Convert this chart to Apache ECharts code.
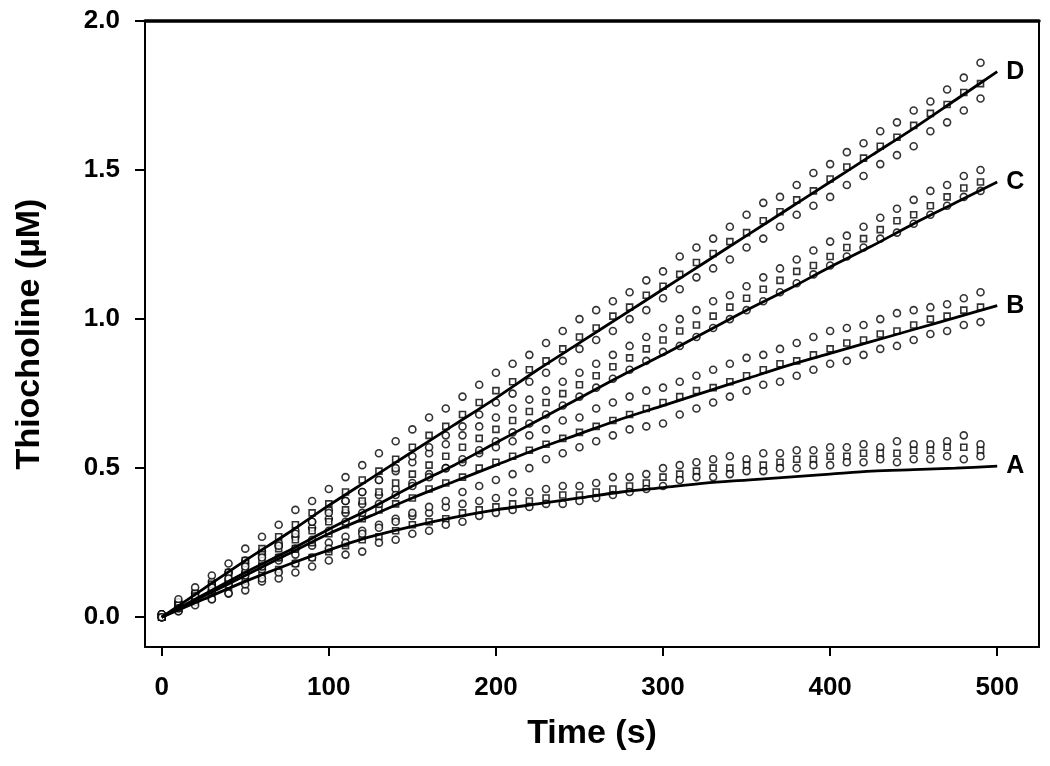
<!DOCTYPE html>
<html>
<head>
<meta charset="utf-8">
<script src="https://cdn.jsdelivr.net/npm/echarts@6/dist/echarts.min.js"></script>
<style>html,body{margin:0;padding:0;background:#fff;}#c{width:1050px;height:766px;}</style>
</head>
<body>
<div id="c"></div>
<script>
// ---- data ----
const xTicks = [0, 100, 200, 300, 400, 500];
const yTicks = [0, 0.5, 1.0, 1.5, 2.0];
const curveNames = ['A', 'B', 'C', 'D'];

// fitted curves, time points
const tFit = [0, 25, 50, 75, 100, 125, 150, 175, 200, 225, 250, 275, 300, 325, 350, 375, 400, 425, 450, 475, 500];
const fitA = [0, 0.06, 0.12, 0.175, 0.225, 0.27, 0.305, 0.335, 0.36, 0.38, 0.40, 0.42, 0.435, 0.45, 0.46, 0.47, 0.48, 0.49, 0.495, 0.50, 0.507];
const fitB = [0, 0.07, 0.14, 0.21, 0.28, 0.34, 0.40, 0.455, 0.51, 0.565, 0.615, 0.665, 0.71, 0.755, 0.80, 0.845, 0.885, 0.925, 0.965, 1.005, 1.045];
const fitC = [0, 0.075, 0.15, 0.22, 0.295, 0.365, 0.44, 0.51, 0.585, 0.66, 0.735, 0.81, 0.88, 0.955, 1.03, 1.10, 1.175, 1.245, 1.32, 1.39, 1.46];
const fitD = [0, 0.095, 0.19, 0.28, 0.375, 0.465, 0.555, 0.645, 0.735, 0.83, 0.92, 1.01, 1.10, 1.19, 1.28, 1.37, 1.46, 1.55, 1.64, 1.735, 1.83];

// observed replicates, time points
const tObs = [0,10,20,30,40,50,60,70,80,90,100,110,120,130,140,150,160,170,180,190,200,210,220,230,240,250,260,270,280,290,300,310,320,330,340,350,360,370,380,390,400,410,420,430,440,450,460,470,480,490];

const obsA1 = [0.01,0.04,0.07,0.09,0.12,0.15,0.16,0.19,0.21,0.24,0.25,0.27,0.29,0.31,0.33,0.34,0.35,0.37,0.38,0.39,0.40,0.42,0.42,0.43,0.44,0.44,0.45,0.47,0.47,0.48,0.50,0.51,0.52,0.53,0.54,0.53,0.55,0.55,0.56,0.56,0.57,0.57,0.58,0.57,0.59,0.58,0.58,0.59,0.61,0.58];
const obsA2 = [0.00,0.03,0.06,0.08,0.10,0.12,0.14,0.16,0.18,0.20,0.22,0.24,0.26,0.27,0.29,0.31,0.32,0.33,0.35,0.36,0.37,0.38,0.39,0.40,0.41,0.41,0.42,0.43,0.44,0.45,0.47,0.48,0.49,0.50,0.50,0.51,0.51,0.52,0.53,0.53,0.54,0.54,0.55,0.55,0.55,0.56,0.56,0.57,0.57,0.56];
const obsA3 = [0.00,0.02,0.05,0.06,0.08,0.09,0.12,0.13,0.15,0.17,0.19,0.21,0.22,0.25,0.26,0.28,0.29,0.31,0.32,0.34,0.35,0.36,0.37,0.38,0.38,0.39,0.40,0.41,0.42,0.43,0.44,0.46,0.47,0.47,0.48,0.49,0.49,0.50,0.50,0.51,0.51,0.52,0.52,0.53,0.52,0.53,0.53,0.54,0.53,0.54];

const obsB1 = [0.01,0.05,0.08,0.11,0.15,0.18,0.21,0.24,0.27,0.30,0.33,0.35,0.38,0.41,0.43,0.45,0.48,0.50,0.52,0.55,0.57,0.59,0.61,0.63,0.66,0.67,0.70,0.72,0.74,0.76,0.77,0.79,0.81,0.83,0.85,0.87,0.88,0.90,0.92,0.94,0.96,0.97,0.98,1.00,1.02,1.03,1.04,1.05,1.07,1.09];
const obsB2 = [0.00,0.03,0.06,0.09,0.12,0.14,0.17,0.20,0.23,0.25,0.28,0.31,0.33,0.36,0.38,0.40,0.43,0.45,0.47,0.50,0.52,0.54,0.56,0.58,0.60,0.62,0.64,0.66,0.68,0.70,0.72,0.74,0.76,0.77,0.79,0.81,0.83,0.85,0.86,0.88,0.90,0.92,0.93,0.95,0.96,0.98,1.00,1.01,1.03,1.04];
const obsB3 = [0.00,0.02,0.04,0.06,0.08,0.11,0.13,0.15,0.18,0.20,0.23,0.25,0.28,0.30,0.32,0.35,0.37,0.39,0.42,0.44,0.46,0.48,0.50,0.53,0.55,0.57,0.59,0.61,0.63,0.64,0.65,0.68,0.70,0.72,0.74,0.76,0.78,0.79,0.81,0.83,0.85,0.86,0.88,0.90,0.91,0.93,0.95,0.96,0.98,0.99];

const obsC1 = [0.01,0.05,0.08,0.12,0.15,0.19,0.22,0.25,0.29,0.32,0.36,0.39,0.42,0.46,0.49,0.52,0.55,0.58,0.61,0.64,0.67,0.70,0.73,0.76,0.79,0.82,0.85,0.88,0.91,0.94,0.97,1.00,1.03,1.06,1.08,1.11,1.14,1.17,1.20,1.23,1.26,1.28,1.31,1.34,1.37,1.40,1.43,1.45,1.48,1.50];
const obsC2 = [0.00,0.04,0.07,0.10,0.13,0.16,0.19,0.23,0.26,0.29,0.32,0.36,0.39,0.42,0.45,0.48,0.51,0.54,0.57,0.60,0.63,0.66,0.69,0.72,0.75,0.78,0.81,0.84,0.87,0.90,0.93,0.96,0.98,1.01,1.04,1.07,1.10,1.13,1.16,1.18,1.21,1.24,1.27,1.30,1.33,1.35,1.38,1.41,1.44,1.46];
const obsC3 = [0.00,0.03,0.06,0.09,0.11,0.14,0.17,0.20,0.23,0.26,0.29,0.32,0.35,0.38,0.41,0.44,0.47,0.50,0.53,0.56,0.59,0.62,0.65,0.68,0.71,0.74,0.77,0.80,0.83,0.86,0.89,0.91,0.94,0.97,1.00,1.03,1.06,1.09,1.12,1.15,1.18,1.21,1.24,1.27,1.29,1.32,1.35,1.38,1.41,1.43];

const obsD1 = [0.01,0.06,0.10,0.14,0.18,0.23,0.27,0.31,0.36,0.39,0.43,0.47,0.51,0.55,0.59,0.63,0.67,0.70,0.74,0.78,0.82,0.85,0.88,0.92,0.96,1.00,1.03,1.06,1.09,1.13,1.16,1.21,1.24,1.27,1.31,1.35,1.39,1.41,1.45,1.49,1.52,1.56,1.59,1.63,1.66,1.70,1.73,1.77,1.81,1.86];
const obsD2 = [0.00,0.04,0.08,0.11,0.15,0.19,0.23,0.27,0.31,0.35,0.38,0.42,0.46,0.49,0.53,0.57,0.61,0.64,0.68,0.72,0.76,0.79,0.83,0.86,0.90,0.94,0.97,1.01,1.04,1.08,1.11,1.15,1.19,1.22,1.26,1.29,1.33,1.36,1.40,1.43,1.47,1.51,1.54,1.58,1.61,1.65,1.69,1.72,1.76,1.79];
const obsD3 = [0.00,0.03,0.07,0.10,0.13,0.17,0.20,0.24,0.28,0.32,0.35,0.39,0.42,0.46,0.50,0.54,0.57,0.61,0.64,0.68,0.72,0.75,0.79,0.82,0.86,0.90,0.93,0.96,1.00,1.03,1.07,1.10,1.14,1.17,1.20,1.24,1.27,1.31,1.35,1.38,1.41,1.45,1.48,1.52,1.55,1.58,1.63,1.66,1.70,1.74];

// ---- chart ----
const FONT = '"Liberation Sans", Arial, sans-serif';
const fits = {A: fitA, B: fitB, C: fitC, D: fitD};
const obs = {A: [obsA1, obsA2, obsA3], B: [obsB1, obsB2, obsB3], C: [obsC1, obsC2, obsC3], D: [obsD1, obsD2, obsD3]};
const symbols = ['circle', 'rect', 'circle'];
const sizes = [7, 6, 7];

const series = [];
curveNames.forEach(name => {
  obs[name].forEach((arr, k) => {
    series.push({
      type: 'scatter',
      name: name + k,
      data: tObs.map((t, i) => [t, arr[i]]),
      symbol: symbols[k],
      symbolSize: sizes[k],
      itemStyle: {color: '#fff', borderColor: '#000', borderWidth: 1.6},
      silent: true,
      z: 2
    });
  });
});
curveNames.forEach(name => {
  series.push({
    type: 'line',
    name: 'fit' + name,
    data: tFit.map((t, i) => [t, fits[name][i]]),
    smooth: 0.3,
    showSymbol: false,
    symbol: 'none',
    lineStyle: {color: '#000', width: 2.8},
    endLabel: {show: true, formatter: name, color: '#000', fontFamily: FONT, fontWeight: 'bold', fontSize: 25, distance: 9},
    silent: true,
    z: 3
  });
});

const chart = echarts.init(document.getElementById('c'), null, {renderer: 'canvas'});
chart.setOption({
  animation: false,
  backgroundColor: '#fff',
  grid: {left: 145, right: 11, top: 21, bottom: 119, containLabel: false},
  xAxis: [{
    type: 'value', min: -10, max: 525, position: 'bottom',
    name: 'Time (s)', nameLocation: 'middle', nameGap: 70,
    nameTextStyle: {fontFamily: FONT, fontWeight: 'bold', fontSize: 34, color: '#000'},
    axisLine: {show: true, onZero: false, lineStyle: {color: '#000', width: 2}},
    axisTick: {show: true, inside: false, length: 9, customValues: xTicks, lineStyle: {color: '#000', width: 2}},
    axisLabel: {show: true, customValues: xTicks, margin: 28, fontFamily: FONT, fontWeight: 'bold', fontSize: 26, color: '#000'},
    splitLine: {show: false}
  }, {
    type: 'value', min: -10, max: 525, position: 'top',
    axisLine: {show: true, onZero: false, lineStyle: {color: '#000', width: 3.5}},
    axisTick: {show: false}, axisLabel: {show: false}, splitLine: {show: false}
  }],
  yAxis: [{
    type: 'value', min: -0.1, max: 2.0, position: 'left',
    name: 'Thiocholine (µM)', nameLocation: 'middle', nameGap: 98,
    nameTextStyle: {fontFamily: FONT, fontWeight: 'bold', fontSize: 34, color: '#000'},
    axisLine: {show: true, onZero: false, lineStyle: {color: '#000', width: 2}},
    axisTick: {show: true, inside: false, length: 10, customValues: yTicks, lineStyle: {color: '#000', width: 2}},
    axisLabel: {show: true, customValues: yTicks, margin: 25, formatter: v => v.toFixed(1), fontFamily: FONT, fontWeight: 'bold', fontSize: 26, color: '#000'},
    splitLine: {show: false}
  }, {
    type: 'value', min: -0.1, max: 2.0, position: 'right',
    axisLine: {show: true, onZero: false, lineStyle: {color: '#000', width: 2}},
    axisTick: {show: false}, axisLabel: {show: false}, splitLine: {show: false}
  }],
  series: series
});
</script>
</body>
</html>
